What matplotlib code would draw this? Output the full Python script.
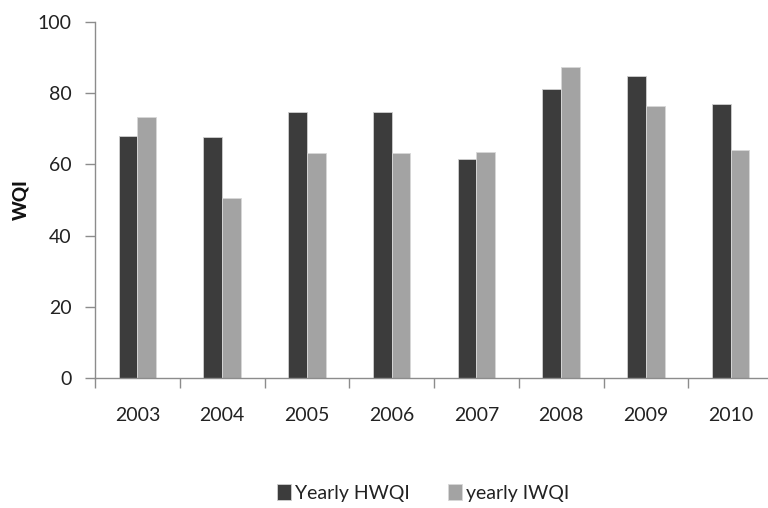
import matplotlib
matplotlib.use("Agg")
import matplotlib.pyplot as plt
import numpy as np

years = ["2003", "2004", "2005", "2006", "2007", "2008", "2009", "2010"]
hwqi = [68.1, 67.6, 74.8, 74.8, 61.4, 81.1, 84.9, 77.0]
iwqi = [73.2, 50.6, 63.1, 63.1, 63.6, 87.3, 76.5, 64.1]

plt.rcParams['font.family'] = ['Lato', 'DejaVu Sans']

fig = plt.figure(figsize=(7.68, 5.08), dpi=100)
ax = fig.add_axes([95/768, 130/508, 678/768, 356/508])

x = np.arange(len(years))
w = 0.222
b1 = ax.bar(x - w/2, hwqi, w, color="#3c3c3c", edgecolor="#d0d0d0", lw=0.6, label="Yearly HWQI")
b2 = ax.bar(x + w/2, iwqi, w, color="#a3a3a3", edgecolor="#d8d8d8", lw=0.6, label="yearly IWQI")

ax.set_xlim(-0.5, len(years) - 0.5)
ax.set_ylim(0, 100)
ax.set_yticks([0, 20, 40, 60, 80, 100])

ax.set_xticks(np.arange(len(years) + 1) - 0.5)
ax.set_xticklabels([])
ax.set_xticks(x, minor=True)
ax.set_xticklabels(years, minor=True)
ax.tick_params(axis='x', which='minor', length=0, pad=21, labelsize=14, labelcolor="#222222")
ax.tick_params(axis='x', which='major', length=7, color="#8c8c8c", width=1)
ax.tick_params(axis='y', length=7, color="#8c8c8c", width=1, pad=10, labelsize=14, labelcolor="#222222")

for s in ["top", "right"]:
    ax.spines[s].set_visible(False)
for s in ["left", "bottom"]:
    ax.spines[s].set_color("#8c8c8c")
    ax.spines[s].set_linewidth(1)

ax.set_ylabel("WQI", fontsize=13.5, fontweight="black", labelpad=6, color="#111111")

fig.legend(handles=[b1, b2], loc="center", bbox_to_anchor=(423/768, 15/508), ncol=2,
           frameon=False, fontsize=14, handlelength=0.7, handleheight=0.9,
           handletextpad=0.2, columnspacing=2.0, labelcolor="#222222")

fig.savefig("out.png", dpi=100)
